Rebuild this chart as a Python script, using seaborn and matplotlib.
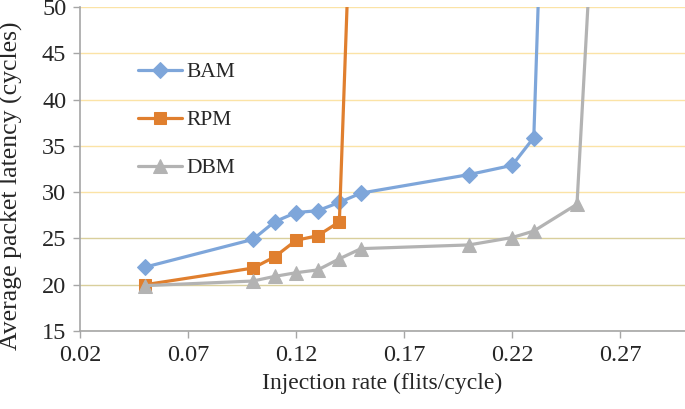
import matplotlib
matplotlib.use("Agg")
import matplotlib.pyplot as plt
import pandas as pd
import seaborn as sns

# Injection rate (flits/cycle) vs average packet latency (cycles)
bam_rate = [0.05, 0.10, 0.11, 0.12, 0.13, 0.14, 0.15, 0.20, 0.22, 0.23, 0.2327]
bam_latency = [21.9, 24.9, 26.8, 27.8, 28.0, 28.9, 29.9, 31.9, 32.9, 35.9, 55]

rpm_rate = [0.05, 0.10, 0.11, 0.12, 0.13, 0.14, 0.1443]
rpm_latency = [20.0, 21.8, 23.0, 24.8, 25.3, 26.8, 55]

dbm_rate = [0.05, 0.10, 0.11, 0.12, 0.13, 0.14, 0.15, 0.20, 0.22, 0.23, 0.25, 0.2562]
dbm_latency = [19.9, 20.4, 20.9, 21.3, 21.6, 22.8, 23.9, 24.3, 25.1, 25.8, 28.7, 55]

x_ticks = [0.02, 0.07, 0.12, 0.17, 0.22, 0.27]
y_ticks = [15, 20, 25, 30, 35, 40, 45, 50]

series = [
    ("BAM", bam_rate, bam_latency, "#7ea6da", "D", 8),
    ("RPM", rpm_rate, rpm_latency, "#e07f2e", "s", 9),
    ("DBM", dbm_rate, dbm_latency, "#b3b3b3", "^", 10),
]

sns.set_theme(style="white")
plt.rcParams["font.family"] = ["Liberation Serif", "DejaVu Serif"]

fig = plt.figure(figsize=(6.85, 4.09), dpi=100)
ax = fig.add_axes([0.117, 0.1907, 0.883, 0.792])

for name, rate, lat, color, marker, size in series:
    df = pd.DataFrame({"rate": rate, "latency": lat})
    sns.lineplot(
        data=df, x="rate", y="latency", ax=ax, color=color, label=name,
        marker=marker, markersize=size, markeredgecolor=color,
        linewidth=2.3, markevery=list(range(len(rate) - 1)),
        sort=False, estimator=None, zorder=3,
    )

ax.set_xlim(0.02, 0.30)
ax.set_ylim(15, 50)
ax.set_xticks(x_ticks)
ax.set_xticklabels([f"{t:.2f}" for t in x_ticks])
ax.set_yticks(y_ticks)
ax.tick_params(axis="both", labelsize=17.5, length=5, width=1,
               color="#a6a6a6", direction="out", pad=5)
ax.tick_params(axis="x", bottom=True)
ax.tick_params(axis="y", left=True)

ax.grid(axis="y", linewidth=1.0)
for tick, line in zip(ax.get_yticks(), ax.get_ygridlines()):
    line.set_color("#d9cf9c" if tick <= 25 else "#fbe3a6")
ax.grid(axis="x", visible=False)

for side in ["top", "right"]:
    ax.spines[side].set_visible(False)
for side in ["left", "bottom"]:
    ax.spines[side].set_color("#a6a6a6")
    ax.spines[side].set_linewidth(1.2)

ax.set_xlabel("Injection rate (flits/cycle)", fontsize=17)
ax.set_ylabel("Average packet latency (cycles)", fontsize=18.5)
ax.xaxis.set_label_coords(0.5, -0.13)
ax.yaxis.set_label_coords(-0.094, 0.447)

ax.legend(
    loc="upper left", bbox_to_anchor=(0.096, 0.83), frameon=False,
    fontsize=15.5, handlelength=2.05, handletextpad=0.2, labelspacing=1.3,
    borderpad=0, borderaxespad=0,
)

fig.savefig("out.png", dpi=100)
